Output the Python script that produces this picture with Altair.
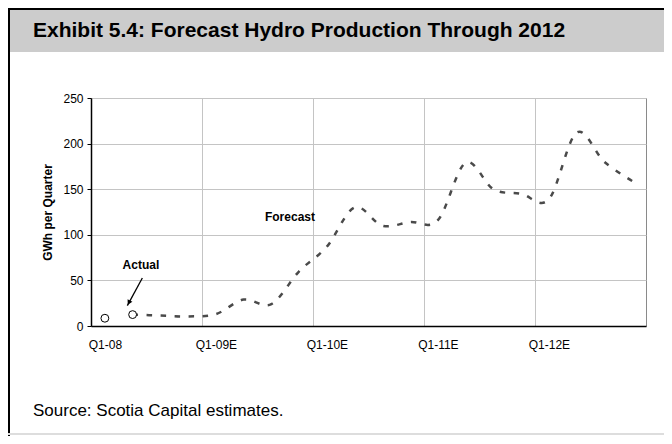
import altair as alt
import pandas as pd

# ---------------- data ----------------
quarters = ["Q1-08", "Q2-08", "Q3-08", "Q4-08",
            "Q1-09E", "Q2-09E", "Q3-09E", "Q4-09E",
            "Q1-10E", "Q2-10E", "Q3-10E", "Q4-10E",
            "Q1-11E", "Q2-11E", "Q3-11E", "Q4-11E",
            "Q1-12E", "Q2-12E", "Q3-12E", "Q4-12E"]
actual_quarters = ["Q1-08", "Q2-08"]
actual_values = [8.5, 12.5]
forecast_quarters = quarters[1:]
forecast_values = [12.5, 11.5, 10.5, 13, 29, 24, 60, 87, 130, 110, 114, 116,
                   179, 150, 145, 139, 212, 180, 159]
axis_labels = ["Q1-08", "Q1-09E", "Q1-10E", "Q1-11E", "Q1-12E"]
y_ticks = [0, 50, 100, 150, 200, 250]

title_text = "Exhibit 5.4: Forecast Hydro Production Through 2012"
source_text = "Source: Scotia Capital estimates."
y_title = "GWh per Quarter"

# annotation labels (position in quarter index / GWh units)
ann_text = ["Actual", "Forecast"]
ann_pos = [1.8, 7.17]
ann_val = [67, 120]
# arrow (quarter index / GWh units)
arrow_pos = [1.85, 1.31]
arrow_val = [52.7, 22.4]

# ---------------- tables ----------------
idx = {q: i + 0.5 for i, q in enumerate(quarters)}
df_fc = pd.DataFrame({"pos": [idx[q] for q in forecast_quarters], "v": forecast_values})
df_ac = pd.DataFrame({"pos": [idx[q] for q in actual_quarters], "v": actual_values})
df_ann = pd.DataFrame({"pos": ann_pos, "v": ann_val, "t": ann_text})
df_arrow = pd.DataFrame({"pos": [arrow_pos[0]], "v": [arrow_val[0]],
                         "pos2": [arrow_pos[1]], "v2": [arrow_val[1]]})
df_head = pd.DataFrame({"pos": [arrow_pos[1] + 0.055], "v": [arrow_val[1] + 3.2]})
df_one = pd.DataFrame({"t": [title_text], "s": [source_text]})

W, H = 555, 228
FONT = "Liberation Sans"
xs = alt.Scale(domain=[0, 20], nice=False, zero=False)
ys = alt.Scale(domain=[0, 250], nice=False)

label_expr = "[" + ",".join("'%s'" % s for s in axis_labels) + "][datum.value/4]"

x_axis = alt.Axis(values=[0, 4, 8, 12, 16], grid=True, gridColor="#c4c4c4", gridWidth=1,
                  ticks=False, tickSize=0, labelExpr=label_expr, labelOffset=W / 40,
                  labelPadding=13, labelFlush=False, labelOverlap=False,
                  domainColor="#000000", domainWidth=1.5, title=None,
                  labelFont=FONT, labelFontSize=12, labelColor="#000000")
y_axis = alt.Axis(values=y_ticks, grid=True, gridColor="#c4c4c4", gridWidth=1,
                  tickSize=4, tickColor="#000000", domainColor="#000000", domainWidth=1.5,
                  labelPadding=4, labelFont=FONT, labelFontSize=12, labelColor="#000000",
                  title=y_title, titleFont=FONT, titleFontSize=12, titleFontWeight="bold",
                  titleColor="#000000", titlePadding=8)

# ---------------- decorations ----------------
band = alt.Chart(df_one).mark_rect(color="#cccccc").encode(
    x=alt.value(-83), x2=alt.value(573), y=alt.value(-90), y2=alt.value(-46))
top_line = alt.Chart(df_one).mark_rule(color="#000000", strokeWidth=2).encode(
    x=alt.value(-83), x2=alt.value(573), y=alt.value(-89))
left_line = alt.Chart(df_one).mark_rule(color="#000000", strokeWidth=2).encode(
    x=alt.value(-82), y=alt.value(-90), y2=alt.value(338))
bottom_line = alt.Chart(df_one).mark_rule(color="#dddddd", strokeWidth=2).encode(
    x=alt.value(-83), x2=alt.value(573), y=alt.value(336))
title = alt.Chart(df_one).mark_text(align="left", baseline="middle", font=FONT,
                                    fontSize=21, fontWeight="bold", color="#000000").encode(
    x=alt.value(-58), y=alt.value(-67), text="t:N")
source = alt.Chart(df_one).mark_text(align="left", baseline="middle", font=FONT,
                                     fontSize=17, color="#000000").encode(
    x=alt.value(-58), y=alt.value(313), text="s:N")

# ---------------- data marks ----------------
line = alt.Chart(df_fc).mark_line(color="#4a4a4a", strokeWidth=2.5, strokeDash=[5.5, 8.5],
                                  interpolate="cardinal", tension=0).encode(
    x=alt.X("pos:Q", scale=xs, axis=x_axis),
    y=alt.Y("v:Q", scale=ys, axis=y_axis))
pts = alt.Chart(df_ac).mark_point(shape="circle", filled=True, fill="#ffffff",
                                  stroke="#000000", strokeWidth=1, size=62, opacity=1).encode(
    x=alt.X("pos:Q", scale=xs), y=alt.Y("v:Q", scale=ys))
ann = alt.Chart(df_ann).mark_text(font=FONT, fontSize=12, fontWeight="bold",
                                  color="#000000", baseline="middle").encode(
    x=alt.X("pos:Q", scale=xs), y=alt.Y("v:Q", scale=ys), text="t:N")
arrow = alt.Chart(df_arrow).mark_rule(color="#000000", strokeWidth=1.3).encode(
    x=alt.X("pos:Q", scale=xs), y=alt.Y("v:Q", scale=ys), x2="pos2:Q", y2="v2:Q")
head = alt.Chart(df_head).mark_point(shape="triangle-up", filled=True, color="#000000",
                                     size=30, angle=208, opacity=1).encode(
    x=alt.X("pos:Q", scale=xs), y=alt.Y("v:Q", scale=ys))

chart = alt.layer(band, top_line, left_line, bottom_line, title, source,
                  line, pts, ann, arrow, head).properties(
    width=W, height=H,
    padding={"left": 83, "top": 90, "right": 18, "bottom": 110},
    autosize=alt.AutoSizeParams(type="none"),
    background="#ffffff",
).configure_view(stroke="#8a8a8a", strokeWidth=1)

chart.save("out.html", embed_options={"renderer": "svg", "actions": False})
